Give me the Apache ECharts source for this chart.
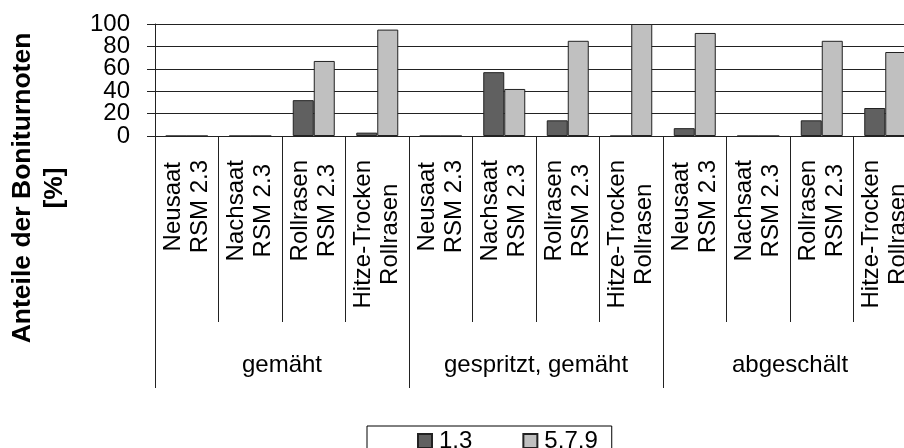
<!DOCTYPE html>
<html>
<head>
<meta charset="utf-8">
<script src="https://cdn.jsdelivr.net/npm/echarts@6/dist/echarts.min.js"></script>
<style>
  html, body { margin: 0; padding: 0; background: #fff; }
  #chart { width: 904px; height: 448px; }
</style>
</head>
<body>
<div id="chart"></div>
<script>
// Treatment variants (inner axis) and treatment groups (outer axis)
const categories = [
  'Neusaat\nRSM 2.3', 'Nachsaat\nRSM 2.3', 'Rollrasen\nRSM 2.3', 'Hitze-Trocken\nRollrasen',
  'Neusaat\nRSM 2.3', 'Nachsaat\nRSM 2.3', 'Rollrasen\nRSM 2.3', 'Hitze-Trocken\nRollrasen',
  'Neusaat\nRSM 2.3', 'Nachsaat\nRSM 2.3', 'Rollrasen\nRSM 2.3', 'Hitze-Trocken\nRollrasen'
];
const groups = ['gemäht', 'gespritzt, gemäht', 'abgeschält'];

// Share of ratings per class [%]
const grade13 = [0, 0, 32, 3, 0, 57, 14, 0, 7, 0, 14, 25];
const grade579 = [0, 0, 67, 95, 0, 42, 85, 100, 92, 0, 85, 75];

// Tick labels are stacked very tightly, so they are split over two
// overlaid axes with the same scale (every other label on each).
const yTicksA = [0, 40, 80];
const yTicksB = [20, 60, 100];

const FONT = 'Liberation Sans, Arial, sans-serif';
const INK = '#000';
const LINE = '#222';

const chart = echarts.init(document.getElementById('chart'), null, { renderer: 'canvas' });

function valueAxis(ticks, primary) {
  return {
    type: 'value',
    position: 'left',
    min: 0,
    max: 100,
    interval: 20,
    axisLine: { show: primary, lineStyle: { color: LINE, width: 1 } },
    axisTick: { show: primary, length: 8, lineStyle: { color: LINE, width: 1 } },
    axisLabel: {
      margin: 25,
      showMinLabel: true,
      showMaxLabel: true,
      hideOverlap: false,
      fontFamily: FONT,
      fontSize: 24,
      color: INK,
      formatter: (v) => (ticks.indexOf(v) >= 0 ? String(v) : '')
    },
    splitLine: { show: primary, lineStyle: { color: LINE, width: 1 } }
  };
}

chart.setOption({
  animation: false,
  backgroundColor: '#fff',
  textStyle: { fontFamily: FONT, color: INK },
  // the plot runs past the right edge of the canvas; the last column is cut off
  grid: { left: 155, top: 24, width: 762, height: 112, outerBoundsMode: 'none' },
  legend: {
    left: 367,
    top: 426,
    orient: 'horizontal',
    icon: 'rect',
    itemWidth: 14,
    itemHeight: 14,
    itemGap: 50,
    padding: [3, 14, 12, 50],
    borderColor: '#000',
    borderWidth: 1,
    textStyle: { fontFamily: FONT, fontSize: 24, color: INK, padding: [0, 0, 0, 2] },
    data: ['1.3', '5,7,9']
  },
  graphic: [{
    type: 'text',
    x: 39,
    y: 188,
    rotation: Math.PI / 2,
    style: {
      text: 'Anteile der Boniturnoten\n[%]',
      font: 'bold 26.5px ' + FONT,
      fill: INK,
      align: 'center',
      verticalAlign: 'middle',
      lineHeight: 32
    }
  }],
  xAxis: [{
    type: 'category',
    data: categories,
    position: 'bottom',
    axisLine: { show: true, lineStyle: { color: LINE, width: 1 } },
    axisTick: { show: true, length: 186, interval: 0, lineStyle: { color: LINE, width: 1 } },
    axisLabel: {
      interval: 0,
      rotate: 90,
      margin: 24,
      hideOverlap: false,
      formatter: (v) => v.split('\n').map(s => '{c|' + s + '}').join('\n'),
      rich: {
        c: { align: 'center', fontFamily: FONT, fontSize: 24, color: INK, lineHeight: 27 }
      }
    },
    splitLine: { show: false }
  }, {
    type: 'category',
    data: groups,
    position: 'bottom',
    axisLine: { show: false },
    axisTick: { show: true, length: 252, interval: 0, lineStyle: { color: LINE, width: 1 } },
    axisLabel: { interval: 0, margin: 217, hideOverlap: false, fontFamily: FONT, fontSize: 24, color: INK },
    splitLine: { show: false }
  }],
  yAxis: [valueAxis(yTicksA, true), valueAxis(yTicksB, false)],
  series: [{
    name: '1.3',
    type: 'bar',
    xAxisIndex: 0,
    yAxisIndex: 0,
    data: grade13,
    barWidth: 21,
    barGap: '0%',
    itemStyle: { color: '#606060', borderColor: '#222', borderWidth: 1 }
  }, {
    name: '5,7,9',
    type: 'bar',
    xAxisIndex: 0,
    yAxisIndex: 0,
    data: grade579,
    barWidth: 21,
    barGap: '0%',
    itemStyle: { color: '#c0c0c0', borderColor: '#222', borderWidth: 1 }
  }]
});
</script>
</body>
</html>
